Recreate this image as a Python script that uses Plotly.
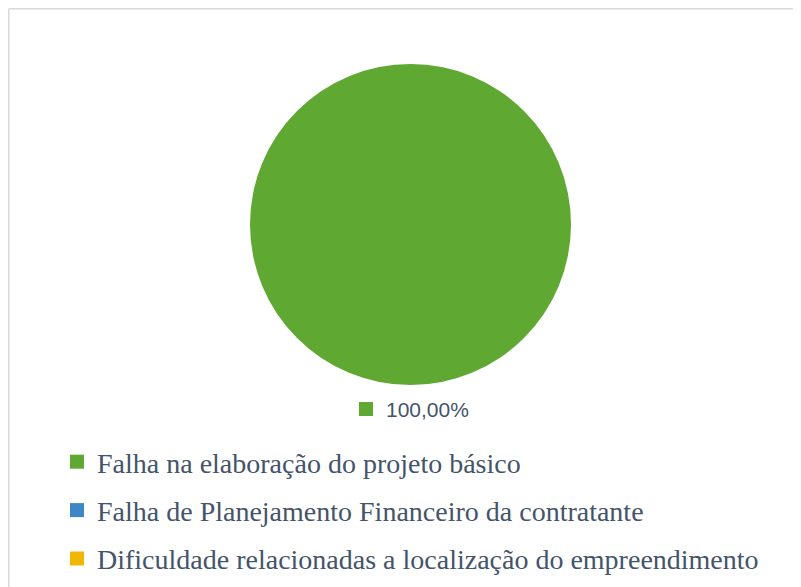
import plotly.graph_objects as go

labels = [
    "Falha na elaboração do projeto básico",
    "Falha de Planejamento Financeiro da contratante",
    "Dificuldade relacionadas a localização do empreendimento",
]
values = [100.0, 0.0, 0.0]
colors = ["#5FA831", "#3F86C6", "#F2B705"]

W, H = 793, 579
OFF = 8  # page body margin
def px(x): return (x - OFF) / W
def py(y): return 1 - (y - OFF) / H

total = sum(values)
share = values[0] / total * 100
label_text = f"{share:.2f}%".replace(".", ",")

fig = go.Figure()
fig.add_trace(go.Pie(
    labels=labels,
    values=values,
    marker=dict(colors=colors, line=dict(width=0)),
    textinfo="none",
    sort=False,
    direction="clockwise",
    domain=dict(x=[px(250), px(571)], y=[py(385), py(64)]),
    showlegend=False,
    hoverinfo="label+percent",
))

# legend entries (one per category, coloured like the slices)
for lab, col in zip(labels, colors):
    fig.add_trace(go.Scatter(
        x=[None], y=[None], mode="markers", name=lab,
        marker=dict(symbol="square", size=14, color=col),
        legendgroup=lab, showlegend=True, hoverinfo="skip",
    ))

fig.update_layout(
    width=W, height=H,
    margin=dict(l=0, r=0, t=0, b=0),
    paper_bgcolor="white",
    plot_bgcolor="white",
    separators=",.",
    xaxis=dict(visible=False),
    yaxis=dict(visible=False),
    legend=dict(
        x=px(57), y=py(437), xanchor="left", yanchor="top",
        font=dict(family="Liberation Serif", size=28, color="#44546A"),
        bgcolor="rgba(0,0,0,0)",
        traceorder="grouped",
        tracegroupgap=9,
        itemsizing="trace",
    ),
    shapes=[
        dict(type="line", xref="paper", yref="paper",
             x0=0.8 / W, x1=1.0, y0=1 - 0.8 / H, y1=1 - 0.8 / H,
             line=dict(color="#D9D9D9", width=1.5)),
        dict(type="line", xref="paper", yref="paper",
             x0=0.8 / W, x1=0.8 / W, y0=0.0, y1=1 - 0.8 / H,
             line=dict(color="#D9D9D9", width=1.5)),
        dict(type="rect", xref="paper", yref="paper",
             x0=px(359), x1=px(373), y0=py(416), y1=py(402),
             line=dict(width=0), fillcolor=colors[0]),
    ],
    annotations=[
        dict(text=label_text, xref="paper", yref="paper",
             x=px(384), y=py(409), xanchor="left", yanchor="middle",
             showarrow=False,
             font=dict(family="Liberation Sans", size=21, color="#44546A")),
    ],
)

fig.write_html("out.html")
